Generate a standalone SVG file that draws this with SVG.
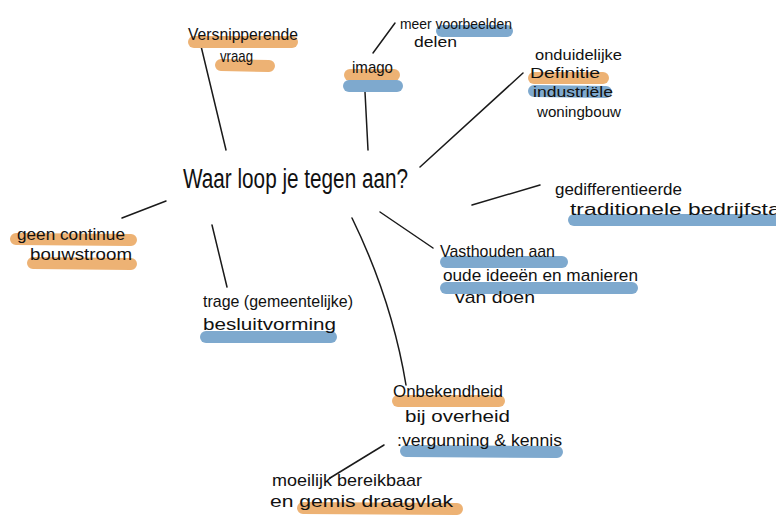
<svg xmlns="http://www.w3.org/2000/svg" width="776" height="515" viewBox="0 0 776 515">
<style>
.t{font-family:"Liberation Sans","DejaVu Sans",sans-serif;font-size:17px;fill:#111;}
.s{font-size:14px;}
.m{font-size:27px;}
.o{stroke:#EDB274;stroke-width:12;stroke-linecap:round;fill:none;}
.b{stroke:#7EA9CE;stroke-width:12;stroke-linecap:round;fill:none;}
.c{stroke:#1a1a1a;stroke-width:1.5;fill:none;stroke-linecap:round;}
</style>
<rect width="776" height="515" fill="#ffffff"/>
<g id="connectors">
<path class="c" d="M201,46 L226,150"/>
<path class="c" d="M373,53 L395,23"/>
<path class="c" d="M365,92 L368,150"/>
<path class="c" d="M420,167 L523,73"/>
<path class="c" d="M472,205 L540,185"/>
<path class="c" d="M122,218 L166,201"/>
<path class="c" d="M212,225 L227,287"/>
<path class="c" d="M380,212 L433,248"/>
<path class="c" d="M352,218 Q392,300 406,385"/>
<path class="c" d="M384,445 L330,478"/>
</g>
<g id="center">
<text class="t m" x="183" y="188" textLength="225" lengthAdjust="spacingAndGlyphs">Waar loop je tegen aan?</text>
</g>
<g id="versnipperende">
<line class="o" x1="194" y1="42" x2="292" y2="42"/>
<line class="o" x1="221" y1="65" x2="269" y2="66"/>
<text class="t" x="188" y="40" textLength="110" lengthAdjust="spacingAndGlyphs">Versnipperende</text>
<text class="t" x="220" y="62" textLength="33" lengthAdjust="spacingAndGlyphs">vraag</text>
</g>
<g id="voorbeelden">
<line class="b" x1="442" y1="31" x2="507" y2="31"/>
<text class="t s" x="400" y="29" textLength="112" lengthAdjust="spacingAndGlyphs">meer voorbeelden</text>
<text class="t s" x="414" y="47" textLength="43" lengthAdjust="spacingAndGlyphs">delen</text>
</g>
<g id="imago">
<line class="o" x1="350" y1="75" x2="394" y2="75"/>
<line class="b" x1="349" y1="86" x2="397" y2="86"/>
<text class="t" x="352" y="73" textLength="41" lengthAdjust="spacingAndGlyphs">imago</text>
</g>
<g id="definitie">
<line class="o" x1="534" y1="78" x2="603" y2="78"/>
<line class="b" x1="534" y1="91" x2="606" y2="92"/>
<text class="t s" x="535" y="60" textLength="87" lengthAdjust="spacingAndGlyphs">onduidelijke</text>
<text class="t s" x="530" y="78" textLength="70" lengthAdjust="spacingAndGlyphs">Definitie</text>
<text class="t s" x="533" y="97" textLength="80" lengthAdjust="spacingAndGlyphs">industriële</text>
<text class="t s" x="537" y="117" textLength="84" lengthAdjust="spacingAndGlyphs">woningbouw</text>
</g>
<g id="traditioneel">
<line class="b" x1="574" y1="220" x2="790" y2="220"/>
<text class="t" x="555" y="195" textLength="127" lengthAdjust="spacingAndGlyphs">gedifferentieerde</text>
<text class="t" x="570" y="215" textLength="222" lengthAdjust="spacingAndGlyphs">traditionele bedrijfstak</text>
</g>
<g id="bouwstroom">
<line class="o" x1="16" y1="239" x2="131" y2="240"/>
<line class="o" x1="33" y1="263" x2="131" y2="264"/>
<text class="t" x="17" y="240" textLength="108" lengthAdjust="spacingAndGlyphs">geen continue</text>
<text class="t" x="30" y="260" textLength="102" lengthAdjust="spacingAndGlyphs">bouwstroom</text>
</g>
<g id="besluitvorming">
<line class="b" x1="206" y1="337" x2="331" y2="337"/>
<text class="t" x="203" y="307" textLength="150" lengthAdjust="spacingAndGlyphs">trage (gemeentelijke)</text>
<text class="t" x="203" y="330" textLength="133" lengthAdjust="spacingAndGlyphs">besluitvorming</text>
</g>
<g id="vasthouden">
<line class="b" x1="446" y1="262" x2="562" y2="262"/>
<line class="b" x1="446" y1="288" x2="632" y2="288"/>
<text class="t" x="440" y="257" textLength="115" lengthAdjust="spacingAndGlyphs">Vasthouden aan</text>
<text class="t" x="443" y="281" textLength="195" lengthAdjust="spacingAndGlyphs">oude ideeën en manieren</text>
<text class="t" x="455" y="303" textLength="80" lengthAdjust="spacingAndGlyphs">van doen</text>
</g>
<g id="onbekendheid">
<line class="o" x1="398" y1="401" x2="499" y2="401"/>
<line class="b" x1="406" y1="451" x2="557" y2="452"/>
<text class="t" x="393" y="397" textLength="110" lengthAdjust="spacingAndGlyphs">Onbekendheid</text>
<text class="t" x="405" y="422" textLength="105" lengthAdjust="spacingAndGlyphs">bij overheid</text>
<text class="t" x="397" y="446" textLength="165" lengthAdjust="spacingAndGlyphs">:vergunning &amp; kennis</text>
</g>
<g id="draagvlak">
<line class="o" x1="303" y1="508" x2="457" y2="509"/>
<text class="t" x="272" y="486" textLength="150" lengthAdjust="spacingAndGlyphs">moeilijk bereikbaar</text>
<text class="t" x="270" y="507" textLength="183" lengthAdjust="spacingAndGlyphs">en gemis draagvlak</text>
</g>
</svg>
